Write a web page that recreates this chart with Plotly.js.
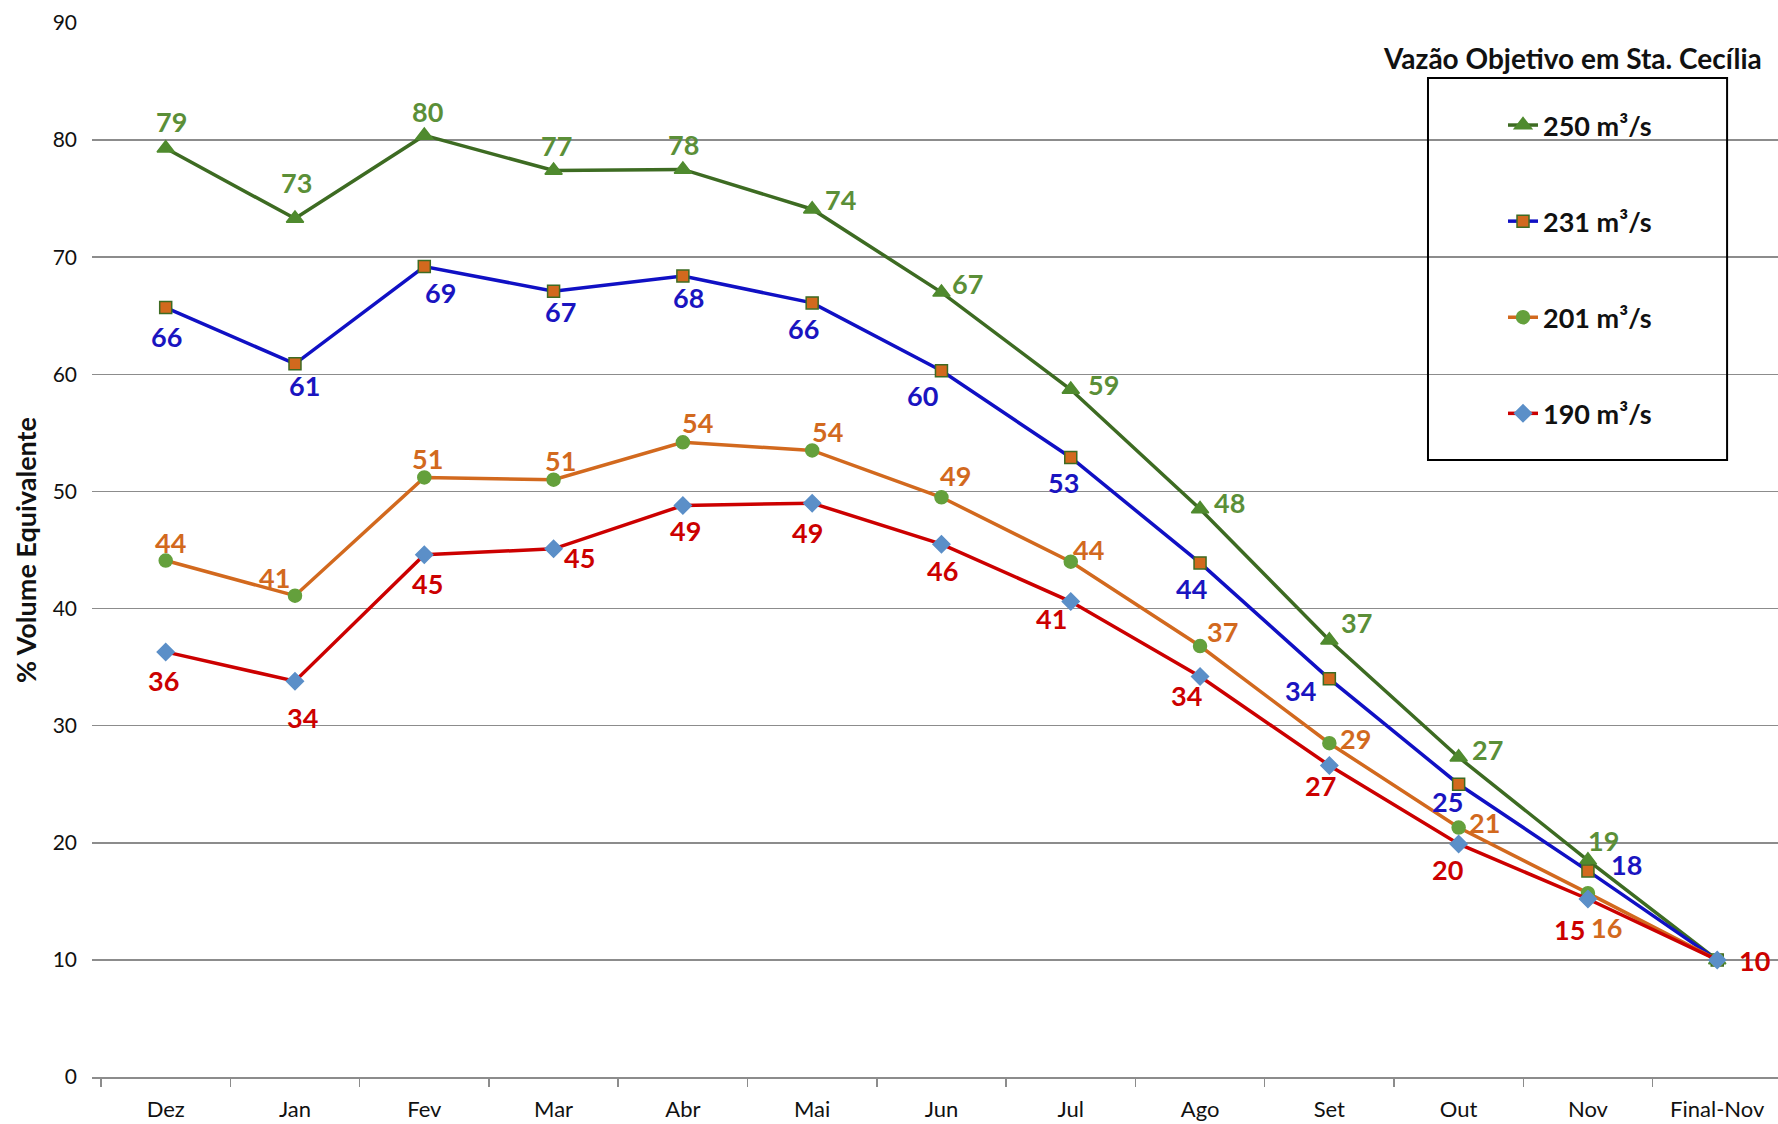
<!DOCTYPE html>
<html>
<head>
<meta charset="utf-8">
<script src="https://cdn.plot.ly/plotly-3.0.1.min.js"></script>
<style>
  html, body { margin: 0; padding: 0; background: #fff; }
  #chart { width: 1778px; height: 1124px; }
</style>
</head>
<body>
<div id="chart"></div>
<script>
// Categories and series
const months = ['Dez', 'Jan', 'Fev', 'Mar', 'Abr', 'Mai', 'Jun', 'Jul', 'Ago', 'Set', 'Out', 'Nov', 'Final-Nov'];

const q250 = [79.3, 73.3, 80.4, 77.4, 77.5, 74.1, 67.0, 58.7, 48.5, 37.3, 27.3, 18.5, 10.0];
const q231 = [65.7, 60.9, 69.2, 67.1, 68.4, 66.1, 60.3, 52.9, 43.9, 34.0, 25.0, 17.6, 10.0];
const q201 = [44.1, 41.1, 51.2, 51.0, 54.2, 53.5, 49.5, 44.0, 36.8, 28.5, 21.3, 15.7, 10.0];
const q190 = [36.3, 33.8, 44.6, 45.1, 48.8, 49.0, 45.5, 40.6, 34.2, 26.6, 19.9, 15.2, 10.0];

const lbl250 = ['79', '73', '80', '77', '78', '74', '67', '59', '48', '37', '27', '19', ''];
const lbl231 = ['66', '61', '69', '67', '68', '66', '60', '53', '44', '34', '25', '18', ''];
const lbl201 = ['44', '41', '51', '51', '54', '54', '49', '44', '37', '29', '21', '16', ''];
const lbl190 = ['36', '34', '45', '45', '49', '49', '46', '41', '34', '27', '20', '15', '10'];

const seriesNames = ['250 m³/s', '231 m³/s', '201 m³/s', '190 m³/s'];

// Label offsets in px (dx, dy down), like the manually placed Excel labels
const off250 = [[6,-27],[2,-36],[3,-24],[3,-25],[1,-25],[28,-10],[26,-9],[33,-5],[29,-7],[27,-18],[29,-8],[16,-20],[0,0]];
const off231 = [[1,29],[10,22],[16,26],[7,20],[6,22],[-9,26],[-19,25],[-7,25],[-9,26],[-29,12],[-11,17],[39,-6],[0,0]];
const off201 = [[5,-18],[-20,-18],[3,-19],[7,-19],[15,-20],[15,-19],[14,-22],[18,-12],[22,-15],[26,-5],[26,-5],[19,34],[0,0]];
const off190 = [[-2,29],[8,36],[3,29],[26,9],[3,25],[-5,29],[1,26],[-19,17],[-14,19],[-9,20],[-11,26],[-18,31],[37,1]];

const styles = [
    { line: '#3d6b22', marker: '#4f8a2e', border: '#4f8a2e', symbol: 'triangle-up', size: 15, label: '#5b8f38' },
    { line: '#1010c4', marker: '#d2691e', border: '#3d6b22', symbol: 'square', size: 12, label: '#1a14c0' },
    { line: '#d2691e', marker: '#64a03c', border: '#64a03c', symbol: 'circle', size: 13, label: '#d2691e' },
    { line: '#cc0000', marker: '#5b8fc8', border: '#5b8fc8', symbol: 'diamond', size: 13, label: '#cc0000' }
];

const values = [q250, q231, q201, q190];
const labels = [lbl250, lbl231, lbl201, lbl190];
const offsets = [off250, off231, off201, off190];

const traces = values.map((v, k) => ({
    x: months,
    y: v,
    type: 'scatter',
    mode: 'lines+markers',
    name: seriesNames[k],
    legendgroup: 'g' + k,
    line: { color: styles[k].line, width: 3.5 },
    marker: {
        symbol: styles[k].symbol,
        size: styles[k].size,
        color: styles[k].marker,
        line: { color: styles[k].border, width: 1.5 }
    },
    hoverinfo: 'x+y'
}));

const labelFont = 'Lato, "Open Sans", sans-serif';
const annotations = [];
values.forEach((v, k) => {
    v.forEach((val, i) => {
        if (!labels[k][i]) return;
        annotations.push({
            x: months[i], y: val, xref: 'x', yref: 'y',
            text: labels[k][i],
            showarrow: false,
            xshift: offsets[k][i][0],
            yshift: -offsets[k][i][1],
            font: { family: labelFont, size: 27, color: styles[k].label, weight: 'bold' }
        });
    });
});

// legend title sits above the legend box
annotations.push({
    xref: 'paper', yref: 'paper', x: 0.8784, y: 0.9668,
    xanchor: 'center', yanchor: 'middle',
    text: '<b>Vazão Objetivo em Sta. Cecília</b>',
    showarrow: false,
    font: { family: labelFont, size: 28, color: '#111' }
});

const layout = {
    width: 1778,
    height: 1124,
    margin: { l: 92, r: 0, t: 23, b: 47 },
    paper_bgcolor: '#fff',
    plot_bgcolor: '#fff',
    font: { family: labelFont, color: '#111' },
    showlegend: true,
    legend: {
        x: 0.8369, y: 0.926, xanchor: 'left', yanchor: 'top',
        bgcolor: 'rgba(0,0,0,0)',
        borderwidth: 0,
        tracegroupgap: 58,
        font: { family: labelFont, size: 27, color: '#111', weight: 'bold' }
    },
    xaxis: {
        type: 'category',
        range: [-0.57, 12.47],
        showgrid: false,
        showline: true,
        linecolor: '#8c8c8c',
        linewidth: 1.5,
        ticks: 'outside',
        tickson: 'boundaries',
        ticklen: 8,
        tickwidth: 1.5,
        tickcolor: '#8c8c8c',
        ticklabelstandoff: 12,
        tickfont: { family: labelFont, size: 22, color: '#111' }
    },
    yaxis: {
        range: [0, 90],
        dtick: 10,
        tick0: 0,
        showgrid: true,
        gridcolor: '#8c8c8c',
        gridwidth: 1.5,
        zeroline: true,
        zerolinecolor: '#8c8c8c',
        zerolinewidth: 1.5,
        showline: false,
        ticks: '',
        ticklabelstandoff: 14,
        tickfont: { family: labelFont, size: 21, color: '#111' },
        title: {
            text: '<b>% Volume Equivalente</b>',
            standoff: 8,
            font: { family: labelFont, size: 27, color: '#111' }
        }
    },
    shapes: [{
        type: 'rect', xref: 'paper', yref: 'paper',
        x0: 0.7924, x1: 0.9698, y0: 0.5854, y1: 0.9478,
        line: { color: '#000', width: 2 },
        fillcolor: 'rgba(0,0,0,0)'
    }],
    annotations: annotations
};

Plotly.newPlot('chart', traces, layout, { displayModeBar: false, staticPlot: true });
</script>
</body>
</html>
